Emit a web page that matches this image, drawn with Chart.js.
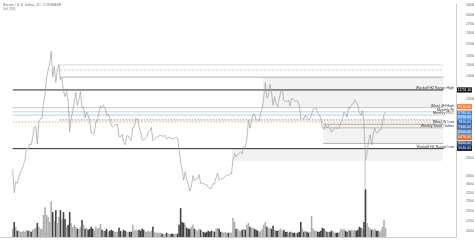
<!DOCTYPE html>
<html>
<head>
<meta charset="utf-8">
<script src="https://cdn.jsdelivr.net/npm/chart.js@4.4.1/dist/chart.umd.min.js"></script>
<style>
  html, body { margin: 0; padding: 0; background: #fff; }
  #wrap { width: 474px; height: 245px; position: relative; }
</style>
</head>
<body>
<div id="wrap"><canvas id="btcChart"></canvas></div>
<script>
// BTCUSD daily, Coinbase - one sample every 4 days from 2017-09-09
const startDate = Date.UTC(2017, 8, 9);
const stepDays = 4;
const closes = [
  4330, 3230, 3700, 3630, 3930, 4190,                          // Sep 2017
  4310, 4600, 4830, 5680, 5600, 5930, 5900, 6450,              // Oct
  7380, 7460, 5950, 7870, 8200, 8250, 9900,                    // Nov
  10980, 13750, 15060, 16400, 19100, 13830, 15800, 12950,      // Dec
  15100, 16200, 13400, 13600, 11600, 10800, 11500, 10200,      // Jan 2018
  6950, 8270, 8900, 10200, 11400, 9660, 10400,                 // Feb
  11500, 9400, 9500, 8260, 8900, 8500, 7900,                   // Mar
  6840, 6780, 6800, 7900, 7900, 8900, 9600, 9400,              // Apr
  9700, 9370, 8500, 8700, 8250, 7500, 7350, 7500,              // May
  7630, 7630, 6550, 6500, 6750, 6150, 5900,                    // Jun
  6600, 6600, 6350, 6250, 7380, 7400, 8170, 8200,              // Jul
  7420, 6950, 6300, 6280, 6380, 6500, 6920, 7010,              // Aug
  7360, 6200, 6330, 6500, 6500, 6600, 6640,                    // Sep
  6580, 6590, 6620, 6340, 6470, 6480, 6400, 6350,              // Oct
  6380, 6500, 6400, 5600, 4700, 4300, 3780,                    // Nov
  4200, 3780, 3600, 3300, 3500, 4000, 3760, 3840,              // Dec
  3860, 4050, 3630, 3640, 3620, 3580, 3570, 3460,              // Jan 2019
  3420, 3400, 3620, 3600, 3900, 4130, 3820,                    // Feb
  3810, 3870, 3880, 3970, 4040, 4000, 4100, 4100,              // Mar
  4880, 5280, 5070, 5200, 5300, 5400, 5270,                    // Apr
  5750, 5740, 6350, 8000, 7280, 7900, 8700, 8640,              // May
  8100, 8000, 8000, 8850, 9300, 10800, 12900,                  // Jun
  10600, 11000, 12600, 11350, 9700, 10800, 9900, 9500,         // Jul
  10500, 11500, 11860, 10300, 10200, 10130, 10350, 9600,       // Aug
  10600, 10500, 10150, 10300, 10250, 9700, 8200,               // Sep
  8300, 8150, 8580, 8300, 8080, 8230, 8650, 9200,              // Oct
  9300, 9340, 8800, 8650, 8180, 7280, 7150, 7560,              // Nov
  7300, 7520, 7200, 6900, 7150, 7320, 7300,                    // Dec
  7200, 7350, 7830, 8120, 8900, 8700, 8350, 9400,              // Jan 2020
  9330, 9760, 9850, 10350, 10180, 9680, 8800,                  // Feb
  8530, 9070, 7900, 4850, 5330, 6200, 6700, 5880,              // Mar
  6790, 7300, 6860, 6850, 7120, 7130, 7700, 8650,              // Apr
  8900                                                         // May
];
// volume, thousand BTC
const volumes = [
  8, 15, 10, 6, 6, 5,
  5, 6, 5, 7, 6, 6, 5, 7,
  8, 9, 14, 10, 8, 8, 22,
  30, 22, 20, 15, 36, 25, 16, 27,
  14, 20, 27, 18, 25, 18, 10, 12,
  25, 14, 10, 12, 10, 8, 8,
  10, 17, 12, 8, 9, 7, 8,
  10, 8, 6, 10, 8, 9, 13, 7,
  6, 6, 8, 5, 6, 7, 6, 5,
  5, 5, 9, 6, 5, 7, 6,
  5, 5, 5, 5, 12, 6, 7, 6,
  7, 6, 8, 7, 5, 5, 6, 5,
  6, 10, 5, 4, 4, 4, 4,
  3, 3, 3, 4, 3, 3, 3, 3,
  3, 3, 3, 12, 29, 15, 14,
  12, 9, 8, 8, 10, 12, 8, 7,
  6, 8, 7, 5, 5, 4, 5, 6,
  5, 6, 6, 5, 8, 9, 8,
  5, 5, 4, 5, 4, 4, 4, 4,
  19, 15, 8, 8, 6, 6, 7,
  8, 7, 12, 14, 10, 9, 9, 8,
  7, 6, 5, 6, 8, 12, 15,
  10, 8, 9, 8, 11, 7, 6, 6,
  7, 8, 6, 7, 5, 5, 4, 5,
  5, 4, 4, 4, 4, 5, 15,
  8, 5, 6, 5, 4, 5, 21, 8,
  6, 6, 5, 5, 6, 9, 8, 6,
  5, 5, 5, 6, 5, 4, 4,
  4, 5, 8, 7, 8, 6, 5, 7,
  6, 7, 6, 7, 6, 7, 10,
  9, 8, 15, 48, 14, 10, 8, 7,
  7, 8, 6, 6, 5, 6, 10, 17,
  9
];

// x axis: every second month
const tickMonths = [
  [2017, 10], [2018, 0], [2018, 2], [2018, 4], [2018, 6], [2018, 8], [2018, 10],
  [2019, 0], [2019, 2], [2019, 4], [2019, 6], [2019, 8], [2019, 10],
  [2020, 0], [2020, 2], [2020, 4], [2020, 6], [2020, 8]
];
const monthNames = ['Jan', 'Feb', 'Mar', 'Apr', 'May', 'Jun', 'Jul', 'Aug', 'Sep', 'Oct', 'Nov', 'Dec'];
const priceTicks = [34000, 30000, 27000, 24000, 21000, 18000, 16000, 14000, 10500, 5000, 4000, 3600, 3200, 2900, 2550, 2250, 2000];

// horizontal levels drawn on the chart
const levelPrices = [16100, 15100, 13800, 11751.4, 9410, 8930, 8570, 8060, 7860, 7640, 7300, 6000, 5620];
const levelColors = ['#d2d2d2', '#b4b4b4', '#a0a0a0', '#2b2b2b', '#f2a878', '#a6cfec', '#bdbdbd', '#6a6a6a', '#ee9068', '#8f8f8f', '#adadad', '#a0a0a0', '#2b2b2b'];
const levelDashes = [[], [2, 2], [], [], [], [], [], [1.5, 1.5], [1.5, 1.5], [], [], [], []];
const levelStartDays = [122, 122, 122, 0, 0, 0, 0, 122, 0, 806, 806, 806, 0];
const levelLabels = ['', '', '', 'Wyckoff H2 Range High', '(Mon) 4H High', 'Monthly Hi', 'Monthly POC', '', '', '(Mon) W Low', 'Weekly Stock Outlier', '', 'Wyckoff H2 Range Low'];

// shaded ranges [top, bottom, startDay]
const boxTops = [13800, 7640, 5620];
const boxBottoms = [9410, 6000, 4830];
const boxStartDays = [650, 806, 569];

// price tags on the right axis
const tagPrices = [11751.4, 9520, 8780, 8330, 7820, 7340, 6900, 6470, 6000, 5640];
const tagColors = ['#111111', '#f37b34', '#3b7fd4', '#5fa3e0', '#2f6cc2', '#4b74a8', '#6f8fb5', '#ef6f2a', '#2c5aa8', '#1c2533'];

const dayMs = 86400000;
const lastDay = 1118;
const yMin = 1851, yMax = 34600;
const volAxisMax = 237;

const pricePoints = closes.map((c, i) => ({ x: i * stepDays, y: c }));
const volPoints = volumes.map((v, i) => ({ x: i * stepDays, y: v }));
const volColors = closes.map((c, i) => (i > 0 && c < closes[i - 1]) ? '#404040' : '#adadad');

const datasets = [];
datasets.push({
  type: 'line', label: 'BTCUSD', data: pricePoints, yAxisID: 'y',
  borderColor: '#9ba0a8', borderWidth: 0.7, pointRadius: 0, tension: 0, order: 0
});
datasets.push({
  type: 'bar', label: 'Vol', data: volPoints, yAxisID: 'yv',
  backgroundColor: volColors, barThickness: 0.9, order: 1
});
levelPrices.forEach((p, i) => {
  datasets.push({
    type: 'line', data: [{ x: levelStartDays[i], y: p }, { x: lastDay, y: p }], yAxisID: 'y',
    borderColor: levelColors[i], borderWidth: (i === 3 || i === 12) ? 1 : 0.8,
    borderDash: levelDashes[i], pointRadius: 0, order: 2
  });
});
boxTops.forEach((t, i) => {
  datasets.push({
    type: 'line', data: [{ x: boxStartDays[i], y: t }, { x: lastDay, y: t }], yAxisID: 'y',
    borderWidth: 0, pointRadius: 0, backgroundColor: 'rgba(190,190,190,0.2)',
    fill: { value: boxBottoms[i] }, order: 3
  });
});
// crash marker
const crashDay = (Date.UTC(2020, 2, 12) - startDate) / dayMs;
datasets.push({
  type: 'line', data: [{ x: crashDay, y: 4850 }, { x: crashDay, y: yMin }], yAxisID: 'y',
  borderColor: '#d4d4d4', borderWidth: 0.8, pointRadius: 0, order: 2
});

const overlayPlugin = {
  id: 'overlay',
  afterDatasetsDraw(chart) {
    const ctx = chart.ctx;
    const y = chart.scales.y;
    const area = chart.chartArea;
    ctx.save();
    ctx.font = '3.6px "Liberation Sans", Arial, sans-serif';
    ctx.fillStyle = '#333';
    ctx.textAlign = 'right';
    ctx.textBaseline = 'bottom';
    levelPrices.forEach((p, i) => {
      if (!levelLabels[i]) return;
      ctx.fillText(levelLabels[i], area.right - 2, y.getPixelForValue(p) - 0.3);
    });
    // header
    ctx.textAlign = 'left';
    ctx.textBaseline = 'middle';
    ctx.fillStyle = '#777';
    ctx.fillText('Bitcoin / U.S. Dollar, 1D, COINBASE', 3, 4.7);
    ctx.fillText('Vol (20)', 3, 9);
    ctx.restore();
  },
  afterDraw(chart) {
    const ctx = chart.ctx;
    const y = chart.scales.y;
    const area = chart.chartArea;
    ctx.save();
    ctx.font = '3.4px "Liberation Sans", Arial, sans-serif';
    ctx.textAlign = 'center';
    ctx.textBaseline = 'middle';
    tagPrices.forEach((p, i) => {
      const py = y.getPixelForValue(p);
      ctx.fillStyle = tagColors[i];
      ctx.fillRect(area.right + 1, py - 2.6, 15, 5.2);
      ctx.fillStyle = '#fff';
      ctx.fillText(p.toFixed(2), area.right + 8.5, py);
    });
    ctx.restore();
  }
};

new Chart(document.getElementById('btcChart').getContext('2d'), {
  data: { datasets },
  options: {
    responsive: true,
    maintainAspectRatio: false,
    animation: false,
    devicePixelRatio: 1,
    layout: { padding: 0 },
    plugins: { legend: { display: false }, tooltip: { enabled: false } },
    scales: {
      x: {
        type: 'linear', min: 0, max: lastDay,
        afterBuildTicks: (scale) => {
          scale.ticks = tickMonths.map(([yy, mm]) => ({ value: (Date.UTC(yy, mm, 1) - startDate) / dayMs }));
        },
        afterFit: (scale) => { scale.height = 8; },
        ticks: {
          autoSkip: false, maxRotation: 0, padding: 1, color: '#666',
          font: { size: 3.8, family: '"Liberation Sans", Arial, sans-serif' },
          callback: (v) => {
            const d = new Date(startDate + v * dayMs);
            return d.getUTCMonth() === 0 ? String(d.getUTCFullYear()) : monthNames[d.getUTCMonth()];
          }
        },
        grid: { display: false },
        border: { color: '#cfcfcf', width: 1 }
      },
      y: {
        type: 'logarithmic', position: 'right', min: yMin, max: yMax,
        afterBuildTicks: (scale) => { scale.ticks = priceTicks.map(v => ({ value: v })); },
        afterFit: (scale) => { scale.width = 18; },
        ticks: {
          padding: 2, color: '#666',
          font: { size: 3.4, family: '"Liberation Sans", Arial, sans-serif' },
          callback: (v) => Number(v).toFixed(2)
        },
        grid: { display: false },
        border: { color: '#cfcfcf', width: 1 }
      },
      yv: { type: 'linear', display: false, min: 0, max: volAxisMax }
    }
  },
  plugins: [overlayPlugin]
});
</script>
</body>
</html>
